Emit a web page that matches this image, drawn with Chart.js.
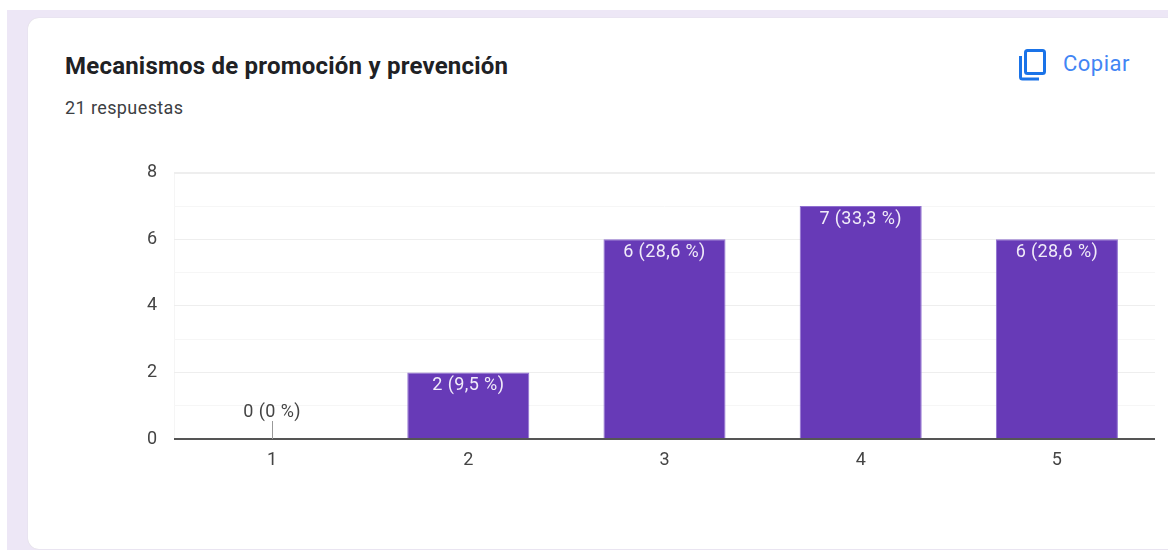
<!DOCTYPE html>
<html lang="es">
<head>
<meta charset="utf-8">
<title>Mecanismos de promoción y prevención</title>
<script src="https://cdn.jsdelivr.net/npm/chart.js@4"></script>
<style>
  html, body { margin: 0; padding: 0; background: #fff; }
  body { width: 1168px; height: 550px; overflow: hidden; position: relative; font-family: Roboto, sans-serif; }
  #band { position: absolute; left: 7px; top: 10px; width: 1161px; height: 540px; background: #ede7f6; }
  #card { position: absolute; left: 28px; top: 18px; width: 1160px; height: 531px; background: #fff; border-radius: 11px; box-shadow: 0 0 1px #ccc; }
  #title { position: absolute; left: 65px; top: 51px; font-size: 24px; line-height: 30px; font-weight: 700; letter-spacing: 0.22px; color: #202124; white-space: nowrap; }
  #count { position: absolute; left: 65px; top: 97px; font-size: 18px; line-height: 22px; letter-spacing: 0.4px; color: #3c4043; white-space: nowrap; }
  #icon { position: absolute; left: 1016px; top: 47px; width: 32px; height: 36px; }
  #copy { position: absolute; left: 1063px; top: 50px; font-size: 22px; line-height: 28px; letter-spacing: 0.5px; color: #4285f4; white-space: nowrap; }
  #wrap { position: absolute; left: 120px; top: 145px; width: 1048px; height: 340px; }
</style>
</head>
<body>
<div id="band"></div>
<div id="card"></div>
<div id="title">Mecanismos de promoción y prevención</div>
<div id="count">21 respuestas</div>
<svg id="icon" viewBox="0 0 32 36" fill="none" stroke="#1a73e8" stroke-width="3">
  <rect x="9.5" y="3.5" width="19" height="23" rx="2"></rect>
  <path d="M4.5 9 V30 a2 2 0 0 0 2 2 H23"></path>
</svg>
<div id="copy">Copiar</div>
<div id="wrap"><canvas id="chart"></canvas></div>

<script>
const categories = ['1', '2', '3', '4', '5'];
const values = [0, 2, 6, 7, 6];
const percents = ['0 %', '9,5 %', '28,6 %', '33,3 %', '28,6 %'];

// etiquetas encima de las barras
const barLabels = {
  id: 'barLabels',
  afterDatasetsDraw(chart) {
    const { ctx, scales } = chart;
    const y0 = scales.y.getPixelForValue(0);
    ctx.save();
    ctx.font = '18px Roboto, sans-serif';
    ctx.letterSpacing = '0.4px';
    ctx.textAlign = 'center';
    ctx.textBaseline = 'middle';
    values.forEach((v, i) => {
      const x = scales.x.getPixelForValue(i);
      const text = v + ' (' + percents[i] + ')';
      if (v === 0) {
        ctx.strokeStyle = '#999';
        ctx.lineWidth = 1;
        ctx.beginPath();
        ctx.moveTo(Math.round(x) + 0.5, y0);
        ctx.lineTo(Math.round(x) + 0.5, y0 - 18);
        ctx.stroke();
        ctx.fillStyle = '#444';
        ctx.fillText(text, x, y0 - 27);
      } else {
        ctx.fillStyle = '#f1ecf9';
        ctx.fillText(text, x, scales.y.getPixelForValue(v) + 13);
      }
    });
    ctx.restore();
  }
};

new Chart(document.getElementById('chart').getContext('2d'), {
  type: 'bar',
  data: {
    labels: categories,
    datasets: [
      {
        data: values,
        backgroundColor: '#673ab7',
        borderColor: '#8f6fd0',
        borderWidth: { top: 1, left: 1, right: 1, bottom: 0 },
        barPercentage: 0.622,
        categoryPercentage: 1,
      },
    ],
  },
  options: {
    responsive: true,
    maintainAspectRatio: false,
    animation: false,
    layout: { padding: { top: 8, right: 13, bottom: 0, left: 0 } },
    plugins: {
      legend: { display: false },
      tooltip: { enabled: false },
    },
    scales: {
      x: {
        grid: {
          color: (c) => (c.index === 0 || c.index === categories.length ? '#f5f5f5' : 'transparent'),
          drawTicks: false,
        },
        border: { display: false },
        ticks: {
          color: '#444',
          font: { family: 'Roboto, sans-serif', size: 18 },
          padding: 11,
          maxRotation: 0,
        },
        afterFit: (scale) => { scale.height = 46; },
      },
      y: {
        min: 0,
        max: 8,
        grid: {
          color: (c) => (c.tick.value === 0 ? '#555' : c.tick.value % 2 === 0 ? '#eeeeee' : '#f6f6f6'),
          lineWidth: (c) => (c.tick.value === 0 || c.tick.value === 8 ? 2 : 1),
          drawTicks: false,
        },
        border: { display: false },
        ticks: {
          stepSize: 1,
          autoSkip: false,
          color: '#444',
          font: { family: 'Roboto, sans-serif', size: 18 },
          padding: 17,
          callback: (v) => (v % 2 === 0 ? v : ''),
        },
        afterFit: (scale) => { scale.width = 54; },
      },
    },
  },
  plugins: [barLabels],
});
</script>
</body>
</html>
